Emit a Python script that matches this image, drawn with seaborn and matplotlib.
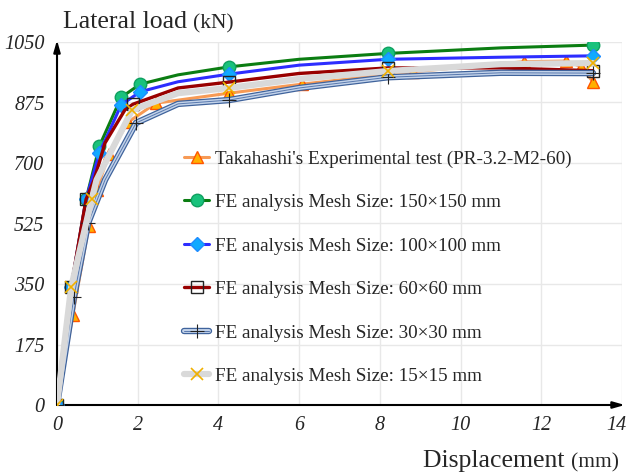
import matplotlib
matplotlib.use("Agg")
import matplotlib.pyplot as plt
import matplotlib.patheffects as pe
import matplotlib.transforms as mtrans
from matplotlib.lines import Line2D
import seaborn as sns

# values (displacement mm, lateral load kN)
exp_x = [0, 0.39, 0.79, 0.98, 1.29, 1.76, 2.45, 4.26, 6.06, 8.82, 11.57, 12.61, 12.98, 13.28]
exp_y = [0, 260, 518, 622, 726, 818, 873, 902, 928, 964, 993, 995, 979, 935]
exp_marks = list(range(len(exp_x)))

m150_x = [0, 0.35, 0.72, 1.05, 1.59, 2.06, 3.0, 4.26, 6.0, 8.2, 11.0, 13.28]
m150_y = [0, 340, 595, 749, 890, 928, 955, 978, 1000, 1017, 1033, 1041]
m150_marks = [0, 1, 2, 3, 4, 5, 7, 9, 11]

m100_x = [0, 0.35, 0.72, 1.05, 1.59, 2.06, 3.0, 4.26, 6.0, 8.2, 11.0, 13.28]
m100_y = [0, 340, 595, 729, 868, 906, 935, 957, 983, 1000, 1006, 1010]
m100_marks = [0, 1, 2, 3, 4, 5, 7, 9, 11]

m60_x = [0, 0.35, 0.72, 0.92, 1.19, 1.68, 1.88, 3.0, 4.26, 6.0, 8.2, 11.0, 13.28]
m60_y = [0, 340, 595, 651, 758, 853, 870, 917, 934, 959, 975, 975, 967]
m60_marks = [0, 1, 2, 6, 8, 10, 12]

m30_x = [0, 0.42, 0.77, 1.19, 1.96, 3.0, 4.26, 6.0, 8.2, 11.0, 13.28]
m30_y = [0, 313, 526, 651, 816, 871, 882, 917, 948, 961, 960]
m30_marks = [0, 1, 2, 4, 6, 8, 10]

m15_x = [0, 0.35, 0.86, 0.98, 1.86, 3.0, 4.26, 6.0, 8.2, 11.0, 13.28]
m15_y = [0, 340, 595, 651, 853, 902, 917, 943, 966, 986, 989]
m15_marks = [0, 1, 2, 4, 6, 8, 10]

labels = [
    "Takahashi's Experimental test (PR-3.2-M2-60)",
    "FE analysis Mesh Size: 150\u00d7150 mm",
    "FE analysis Mesh Size: 100\u00d7100 mm",
    "FE analysis Mesh Size: 60\u00d760 mm",
    "FE analysis Mesh Size: 30\u00d730 mm",
    "FE analysis Mesh Size: 15\u00d715 mm",
]
x_ticks = [0, 2, 4, 6, 8, 10, 12, 14]
y_ticks = [0, 175, 350, 525, 700, 875, 1050]

sns.set_style("white")
plt.rcParams["font.family"] = ["Liberation Serif", "DejaVu Serif"]

fig = plt.figure(figsize=(6.27, 4.73), dpi=100)
ax = fig.add_axes([57 / 627, 68 / 473, 565 / 627, 363 / 473])

# the 30x30 curve is drawn as a hollow light-blue tube with dark edges
navy_fx = [pe.Stroke(linewidth=4.6, foreground="#3f639c"),
           pe.Stroke(linewidth=2.8, foreground="#c3d3ea"),
           pe.Normal()]

line_styles = [
    dict(color="#f79a55", lw=2.2),
    dict(color="#0b7d12", lw=2.2),
    dict(color="#2d2dff", lw=2.2),
    dict(color="#990000", lw=2.4),
    dict(color="#5878ad", lw=0.7, path_effects=navy_fx),
    dict(color="#d9d9d9", lw=4.5),
]
mark_styles = [
    dict(marker="^", markersize=9, markerfacecolor="#ffb000",
         markeredgecolor="#ff5500", markeredgewidth=1),
    dict(marker="o", markersize=9, markerfacecolor="#19c27c",
         markeredgecolor="#0fa060", markeredgewidth=1),
    dict(marker="D", markersize=7, markerfacecolor="#10aaff",
         markeredgecolor="#1e8cff", markeredgewidth=1),
    dict(marker="s", markersize=8, markerfacecolor="none",
         markeredgecolor="#222222", markeredgewidth=1),
    dict(marker="+", markersize=10, markerfacecolor="none",
         markeredgecolor="#222222", markeredgewidth=0.8),
    dict(marker="x", markersize=8, markerfacecolor="none",
         markeredgecolor="#f0b000", markeredgewidth=1.2),
]

series = [
    (exp_x, exp_y, exp_marks),
    (m150_x, m150_y, m150_marks),
    (m100_x, m100_y, m100_marks),
    (m60_x, m60_y, m60_marks),
    (m30_x, m30_y, m30_marks),
    (m15_x, m15_y, m15_marks),
]

# draw order: fine meshes underneath, experiment on top
for i in [4, 5, 3, 2, 1, 0]:
    xs, ys, marks = series[i]
    z = 3 + i * 0.1
    sns.lineplot(x=xs, y=ys, ax=ax, zorder=z, **line_styles[i])
    sns.lineplot(x=xs, y=ys, ax=ax, markevery=marks, linestyle="none",
                 color=line_styles[i]["color"], zorder=z + 0.05, **mark_styles[i])

ax.set_xlim(0, 14)
ax.set_ylim(0, 1050)
ax.set_xticks(x_ticks)
ax.set_yticks(y_ticks)
ax.set_xticklabels([str(t) for t in x_ticks])
ax.set_yticklabels([str(t) for t in y_ticks])
ax.tick_params(axis="x", length=0, pad=8)
ax.tick_params(axis="y", length=0, pad=9)
for lab in ax.get_xticklabels() + ax.get_yticklabels():
    lab.set_fontstyle("italic")
    lab.set_fontsize(14.5)
# keep the "14" at the right edge inside the figure
last = ax.get_xticklabels()[-1]
last.set_transform(last.get_transform() + mtrans.ScaledTranslation(-6 / 100, 0, fig.dpi_scale_trans))
ax.grid(True, color="#e8e8e8", lw=1)
for s in ax.spines.values():
    s.set_visible(False)

arrow = dict(arrowstyle="-|>,head_length=0.7,head_width=0.2", color="black", lw=1.5,
             shrinkA=0, shrinkB=0)
ax.annotate("", xy=(0, 1.005), xytext=(0, 0), xycoords="axes fraction",
            arrowprops=arrow, annotation_clip=False)
ax.annotate("", xy=(1.005, 0), xytext=(0, 0), xycoords="axes fraction",
            arrowprops=arrow, annotation_clip=False)

t1 = fig.text(63 / 627, 1 - 28 / 473, "Lateral load ", fontsize=18.5, va="baseline")
ax.annotate("(kN)", xy=(1, 0), xycoords=t1, fontsize=15.5, va="bottom")
t2 = fig.text(423 / 627, 1 - 467 / 473, "Displacement ", fontsize=18.5, va="baseline")
ax.annotate("(mm)", xy=(1, 0), xycoords=t2, fontsize=15.5, va="bottom")

handles = [(Line2D([0], [0], **line_styles[i]), Line2D([0], [0], linestyle="none", **mark_styles[i]))
           for i in range(6)]
ax.legend(handles, labels, loc="upper left", bbox_to_anchor=(0.225, 0.702),
          frameon=False, fontsize=13.8, handlelength=1.3, handletextpad=0.3,
          labelspacing=1.36, borderpad=0, borderaxespad=0)

fig.savefig("out.png", dpi=100)
